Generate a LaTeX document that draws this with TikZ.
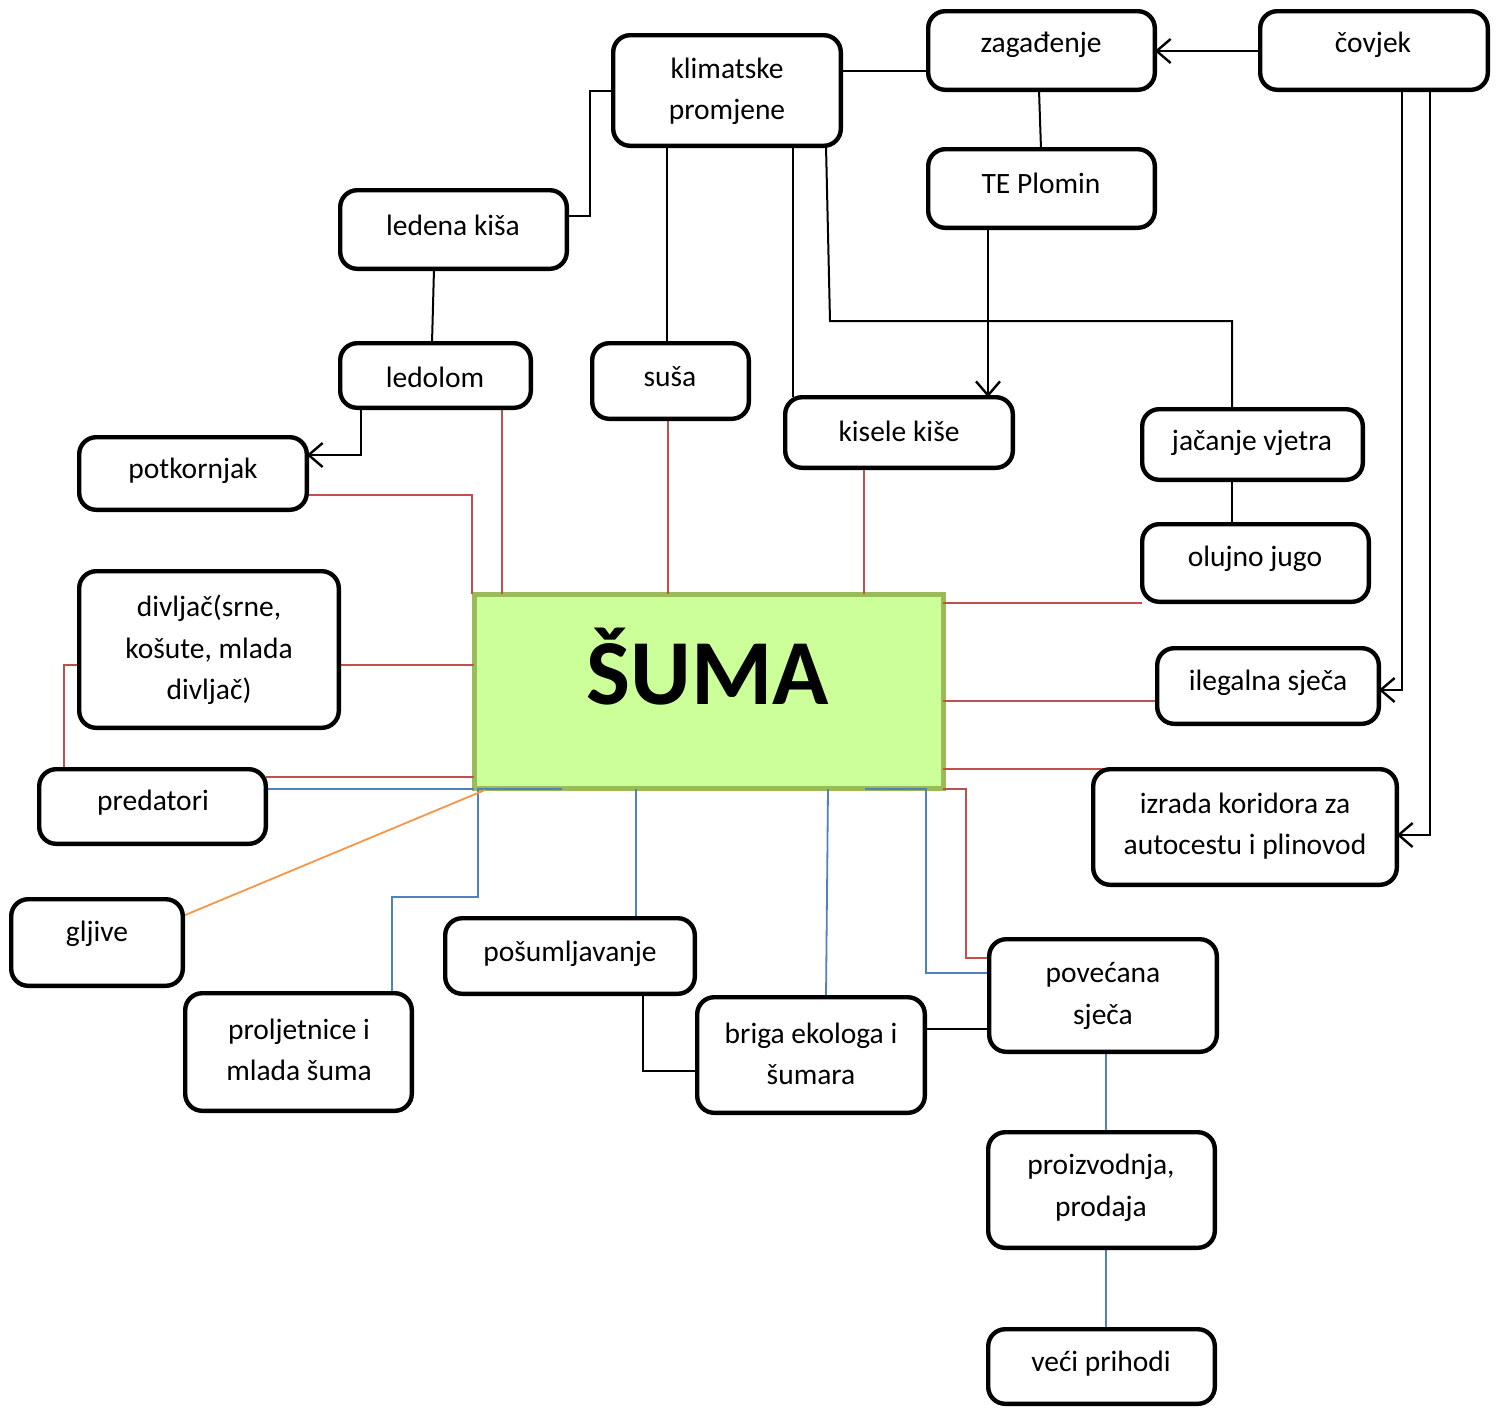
\documentclass[tikz,border=0pt]{standalone}
\usepackage{fontspec}
\setmainfont{Carlito}
\usetikzlibrary{arrows.meta,backgrounds}
\definecolor{lnred}{HTML}{C0504D}
\definecolor{lnblue}{HTML}{4F81BD}
\definecolor{lnorange}{HTML}{F79646}
\definecolor{forestfill}{HTML}{CCFF99}
\definecolor{forestedge}{HTML}{9BBB59}
\tikzset{
  box/.style={draw=black,line width=4.4pt,rounded corners=17pt,inner sep=0pt,outer sep=0pt},
  txt/.style={inner sep=0pt,outer sep=0pt,align=center,font=\fontsize{29.5}{41.5}\selectfont},
  blk/.style={draw=black,line width=2pt},
  arr/.style={blk,line width=2.4pt,-{Straight Barb[length=14pt,width=24pt,line width=2.4pt]}},
  rl/.style={draw=lnred,line width=1.6pt},
  bl/.style={draw=lnblue,line width=1.8pt},
  ol/.style={draw=lnorange,line width=1.8pt},
  forest/.style={draw=forestedge,fill=forestfill,line width=5pt,inner sep=0pt,outer sep=0pt}
}
% rounded box from its outer corners (x1,y1) -- (x2,y2)
\newcommand\rbox[5]{\node[box,minimum width={#4-#2-4.4},minimum height={#5-#3-4.4}] (#1) at ({(#2+#4)/2},{(#3+#5)/2}) {};}
\begin{document}
\begin{tikzpicture}[x=1pt,y=-1pt]
\useasboundingbox (0,0) rectangle (1499,1409);

% boxes
\rbox{zag}{926}{9}{1157}{92}
\rbox{cov}{1258}{9}{1490}{92}
\rbox{klim}{611}{33}{843}{148}
\rbox{te}{926}{147}{1157}{230}
\rbox{led}{338}{188}{569}{271}
\rbox{ledolom}{338}{341}{533}{410}
\rbox{susa}{590}{341}{751}{421}
\rbox{kis}{783}{395}{1015}{470}
\rbox{jac}{1140}{407}{1365}{482}
\rbox{olu}{1140}{522}{1371}{604}
\rbox{potk}{77}{435}{309}{512}
\rbox{div}{77}{569}{341}{730}
\rbox{pred}{37}{767}{268}{846}
\rbox{ileg}{1155}{646}{1381}{726}
\rbox{izr}{1091}{767}{1399}{887}
\rbox{glj}{9}{897}{185}{988}
\rbox{prol}{183}{991}{414}{1113}
\rbox{pos}{443}{916}{697}{996}
\rbox{briga}{695}{995}{927}{1115}
\rbox{pov}{987}{937}{1219}{1054}
\rbox{proiz}{986}{1130}{1217}{1250}
\rbox{veci}{986}{1327}{1217}{1406}

% labels
\node[txt] (tzag) at (1041,45) {zagađenje};
\node[txt] (tcov) at (1373,45) {čovjek};
\node[txt] (tklim) at (727,91.5) {klimatske\\promjene};
\node[txt] (tte) at (1041,183) {TE Plomin};
\node[txt] (tled) at (453,225) {ledena kiša};
\node[txt] (tledolom) at (435,377) {ledolom};
\node[txt] (tsusa) at (670,377) {suša};
\node[txt] (tkis) at (899,431) {kisele kiše};
\node[txt] (tjac) at (1252,443) {jačanje vjetra};
\node[txt] (tolu) at (1255,559) {olujno jugo};
\node[txt] (tpotk) at (193,471) {potkornjak};
\node[txt] (tdiv) at (209,650) {divljač(srne,\\košute, mlada\\divljač)};
\node[txt] (tpred) at (153,803) {predatori};
\node[txt] (tileg) at (1268,683) {ilegalna sječa};
\node[txt] (tizr) at (1245,826) {izrada koridora za\\autocestu i plinovod};
\node[txt] (tglj) at (97,934) {gljive};
\node[txt] (tprol) at (299,1050) {proljetnice i\\mlada šuma};
\node[txt] (tpos) at (570,954) {pošumljavanje};
\node[txt] (tbriga) at (811,1054) {briga ekologa i\\šumara};
\node[txt] (tpov) at (1103,996) {povećana\\sječa};
\node[txt] (tproiz) at (1101,1188) {proizvodnja,\\prodaja};
\node[txt] (tveci) at (1101,1364) {veći prihodi};

\begin{scope}[on background layer]
% central box
\node[forest,minimum width=469,minimum height=194] (suma) at (708.5,691) {};
\node[inner sep=0pt,font=\fontsize{93}{93}\selectfont\bfseries] (tsuma) at (708,667) {ŠUMA};

% black connectors
\draw[blk] (klim.east |- 0,71) -- (zag.west |- 0,71);
\draw[arr] (cov.west |- 0,51) -- (zag.east |- 0,51);
\draw[blk] (zag.south -| 1039,0) -- (te.north -| 1041,0);
\draw[blk] (klim.west |- 0,91) -- (590,91) |- (led.east |- 0,216);
\draw[blk] (led.south -| 434,0) -- (ledolom.north -| 432,0);
\draw[arr] (ledolom.south -| 361,0) |- (potk.east |- 0,455);
\draw[blk] (klim.south -| 667,0) -- (susa.north -| 667,0);
\draw[blk] (klim.south -| 793,0) -- (kis.north -| 793,0);
\draw[blk] (klim.south -| 826,0) -- (830,321) -| (jac.north -| 1232,0);
\draw[arr] (te.south -| 988,0) -- (kis.north -| 988,0);
\draw[blk] (jac.south -| 1232,0) -- (olu.north -| 1232,0);
\draw[arr] (cov.south -| 1402,0) |- (ileg.east |- 0,690);
\draw[arr] (cov.south -| 1430,0) |- (izr.east |- 0,835);
\draw[blk] (pos.south -| 643,0) |- (briga.west |- 0,1071);
\draw[blk] (briga.east |- 0,1029) -- (pov.west |- 0,1029);

% red connectors
\draw[rl] (ledolom.south -| 502,0) -- (suma.north -| 502,0);
\draw[rl] (susa.south -| 668,0) -- (suma.north -| 668,0);
\draw[rl] (kis.south -| 864,0) -- (suma.north -| 864,0);
\draw[rl] (potk.east |- 0,495) -| (suma.north -| 472,0);
\draw[rl] (div.east |- 0,665) -- (suma.west |- 0,665);
\draw[rl] (div.west |- 0,665) -- (64,665) |- (pred.north -| 50,0);
\draw[rl] (pred.east |- 0,777) -- (suma.west |- 0,777);
\draw[rl] (olu.west |- 0,603) -- (suma.east |- 0,603);
\draw[rl] (ileg.west |- 0,701) -- (suma.east |- 0,701);
\draw[rl] (izr.north -| 1105,0) -- (suma.east |- izr.north);
\draw[rl] (suma.east |- 0,789) -- (966,789) |- (pov.west |- 0,958);

% blue connectors
\draw[bl] (pred.east |- 0,789) -- (suma.west |- 0,789);
\draw[bl] (562,789) -- (478,789) |- (392,897) -- (prol.north -| 392,0);
\draw[bl] (pos.north -| 636,0) -- (636,789);
\draw[bl] (briga.north -| 826,0) -- (828,789);
\draw[bl] (pov.west |- 0,973) -| (926,789) -- (865,789);
\draw[bl] (pov.south -| 1106,0) -- (proiz.north -| 1106,0);
\draw[bl] (proiz.south -| 1106,0) -- (veci.north -| 1106,0);

% orange connector
\draw[ol] (glj.east |- 0,916) -- (485,790);
\end{scope}
\end{tikzpicture}
\end{document}
